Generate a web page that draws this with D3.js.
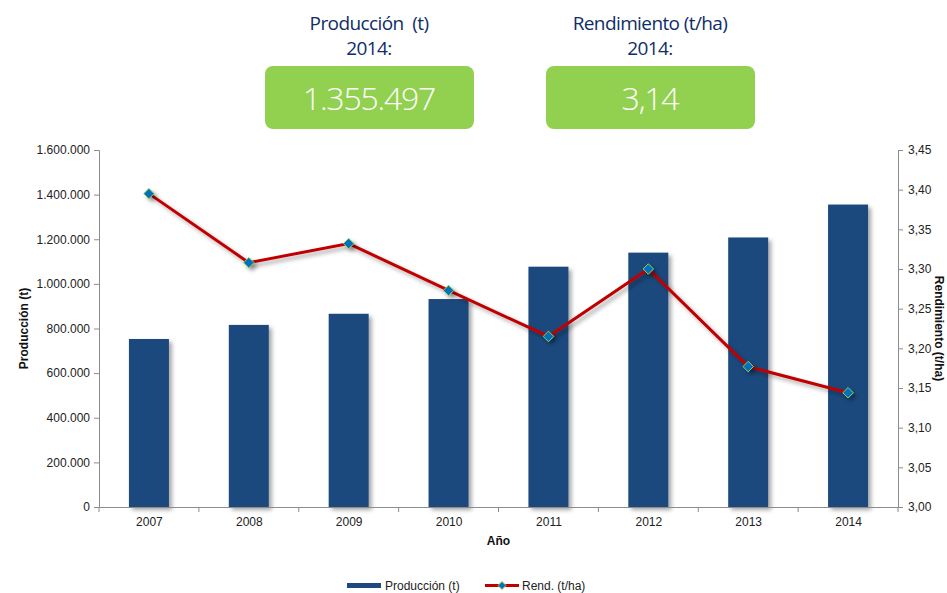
<!DOCTYPE html>
<html>
<head>
<meta charset="utf-8">
<script src="https://cdn.jsdelivr.net/npm/d3@7"></script>
<style>
  html, body { margin: 0; padding: 0; background: #fff; }
  svg { display: block; }
</style>
</head>
<body>
<div id="chart"></div>
<script>
// data
const years = ["2007", "2008", "2009", "2010", "2011", "2012", "2013", "2014"];
const produccion = [753000, 816000, 866000, 932000, 1077000, 1140000, 1208000, 1355497];
const rendimiento = [3.395, 3.308, 3.332, 3.273, 3.215, 3.300, 3.177, 3.144];
const leftTicks = [0, 200000, 400000, 600000, 800000, 1000000, 1200000, 1400000, 1600000];
const rightTicks = [3.00, 3.05, 3.10, 3.15, 3.20, 3.25, 3.30, 3.35, 3.40, 3.45];

const W = 947, H = 593;
const margin = { top: 150, right: 49, bottom: 86, left: 99 };

const es = d3.formatLocale({ decimal: ",", thousands: ".", grouping: [3], currency: ["", " €"] });
const fmtInt = es.format(",.0f");
const fmt2 = es.format(".2f");

const svg = d3.select("#chart").append("svg").attr("width", W).attr("height", H);

const defs = svg.append("defs");
const shadow = defs.append("filter").attr("id", "shadow")
    .attr("x", "-20%").attr("y", "-20%").attr("width", "140%").attr("height", "140%");
shadow.append("feDropShadow").attr("dx", 3).attr("dy", 3).attr("stdDeviation", 2)
    .attr("flood-color", "#000").attr("flood-opacity", 0.35);

// header: two KPI boxes
const kpis = [
    { title: "Producción  (t)", cx: 369, value: fmtInt(produccion[produccion.length - 1]) },
    { title: "Rendimiento (t/ha)", cx: 650, value: fmt2(rendimiento[rendimiento.length - 1]) }
];
const headerFont = "'Open Sans', 'Noto Sans', sans-serif";
kpis.forEach(k => {
    svg.append("text").attr("x", k.cx).attr("y", 30).attr("text-anchor", "middle")
        .attr("fill", "#0f2d69").style("font-family", headerFont).style("font-size", "19px")
        .style("letter-spacing", "-0.6px").style("white-space", "pre").text(k.title);
    svg.append("text").attr("x", k.cx).attr("y", 55).attr("text-anchor", "middle")
        .attr("fill", "#0f2d69").style("font-family", headerFont).style("font-size", "19px")
        .style("letter-spacing", "-0.6px").text(years[years.length - 1] + ":");
    svg.append("rect").attr("x", k.cx - 104).attr("y", 66).attr("width", 209).attr("height", 63)
        .attr("rx", 8).attr("fill", "#92d050");
    svg.append("text").attr("x", k.cx).attr("y", 110).attr("text-anchor", "middle")
        .attr("fill", "#fff").style("font-family", headerFont).style("font-size", "32px")
        .style("font-weight", "300").style("letter-spacing", "-1.2px").text(k.value);
});

const xCenter = d3.scalePoint().domain(years).range([margin.left, W - margin.right]).padding(0.5);
const yL = d3.scaleLinear().domain([0, 1600000]).range([H - margin.bottom, margin.top]);
const yR = d3.scaleLinear().domain([3.00, 3.45]).range([H - margin.bottom, margin.top]);

const axisColor = "#8c8c8c";
const labelFont = "'Liberation Sans', Arial, sans-serif";

// bars
svg.append("g").attr("filter", "url(#shadow)")
    .selectAll("rect").data(years).join("rect")
    .attr("x", d => xCenter(d) - 20).attr("width", 40)
    .attr("y", (d, i) => yL(produccion[i]))
    .attr("height", (d, i) => yL(0) - yL(produccion[i]))
    .attr("fill", "#1f497d");

// axes
function styleAxis(g) {
    g.selectAll("path, line").attr("stroke", axisColor);
    g.selectAll("text").attr("fill", "#222").style("font-family", labelFont).style("font-size", "12px");
}

svg.append("g").attr("transform", `translate(${margin.left},0)`)
    .call(d3.axisLeft(yL).tickValues(leftTicks).tickFormat(fmtInt).tickSizeOuter(0).tickSize(5).tickPadding(4))
    .call(styleAxis);

svg.append("g").attr("transform", `translate(${W - margin.right},0)`)
    .call(d3.axisRight(yR).tickValues(rightTicks).tickFormat(fmt2).tickSizeOuter(0).tickSize(5).tickPadding(5))
    .call(styleAxis);

const xAxisG = svg.append("g").attr("transform", `translate(0,${H - margin.bottom})`)
    .call(d3.axisBottom(xCenter).tickSize(0).tickPadding(10).tickSizeOuter(0))
    .call(styleAxis);
// category boundary ticks
const step = xCenter.step();
xAxisG.selectAll(".sep").data(d3.range(years.length + 1)).join("line").attr("class", "sep")
    .attr("x1", i => margin.left + i * step).attr("x2", i => margin.left + i * step)
    .attr("y1", 0).attr("y2", 5).attr("stroke", axisColor);

// line
const lineGen = d3.line().x((d, i) => xCenter(years[i])).y(d => yR(d));
svg.append("path").datum(rendimiento)
    .attr("d", lineGen).attr("fill", "none")
    .attr("stroke", "#c00000").attr("stroke-width", 3)
    .attr("filter", "url(#shadow)");

const diamond = d3.symbol().type(d3.symbolDiamond2).size(70);
svg.append("g").attr("filter", "url(#shadow)")
    .selectAll("path").data(rendimiento).join("path")
    .attr("transform", (d, i) => `translate(${xCenter(years[i])},${yR(d)})`)
    .attr("d", diamond)
    .attr("fill", "#0070c0").attr("stroke", "#92d050").attr("stroke-width", 1);

// axis titles
svg.append("text").attr("transform", `translate(28,${(yL(0) + yL(1600000)) / 2}) rotate(-90)`)
    .attr("text-anchor", "middle").attr("fill", "#111")
    .style("font-family", labelFont).style("font-size", "12px").style("font-weight", "bold")
    .text("Producción (t)");

svg.append("text").attr("transform", `translate(935,${(yR(3.0) + yR(3.45)) / 2}) rotate(90)`)
    .attr("text-anchor", "middle").attr("fill", "#111")
    .style("font-family", labelFont).style("font-size", "12px").style("font-weight", "bold")
    .text("Rendimiento (t/ha)");

svg.append("text").attr("x", (margin.left + W - margin.right) / 2).attr("y", 545)
    .attr("text-anchor", "middle").attr("fill", "#111")
    .style("font-family", labelFont).style("font-size", "12px").style("font-weight", "bold")
    .text("Año");

// legend
const lg = svg.append("g").style("font-family", labelFont).style("font-size", "12px");
lg.append("rect").attr("x", 347).attr("y", 583).attr("width", 34).attr("height", 5).attr("fill", "#1f497d");
lg.append("text").attr("x", 385).attr("y", 590).attr("fill", "#222").text("Producción (t)");
lg.append("line").attr("x1", 485).attr("x2", 519).attr("y1", 585.5).attr("y2", 585.5)
    .attr("stroke", "#c00000").attr("stroke-width", 3);
lg.append("path").attr("transform", "translate(502,585.5)").attr("d", d3.symbol().type(d3.symbolDiamond2).size(40))
    .attr("fill", "#0070c0").attr("stroke", "#92d050").attr("stroke-width", 1);
lg.append("text").attr("x", 522).attr("y", 590).attr("fill", "#222").text("Rend. (t/ha)");
</script>
</body>
</html>
